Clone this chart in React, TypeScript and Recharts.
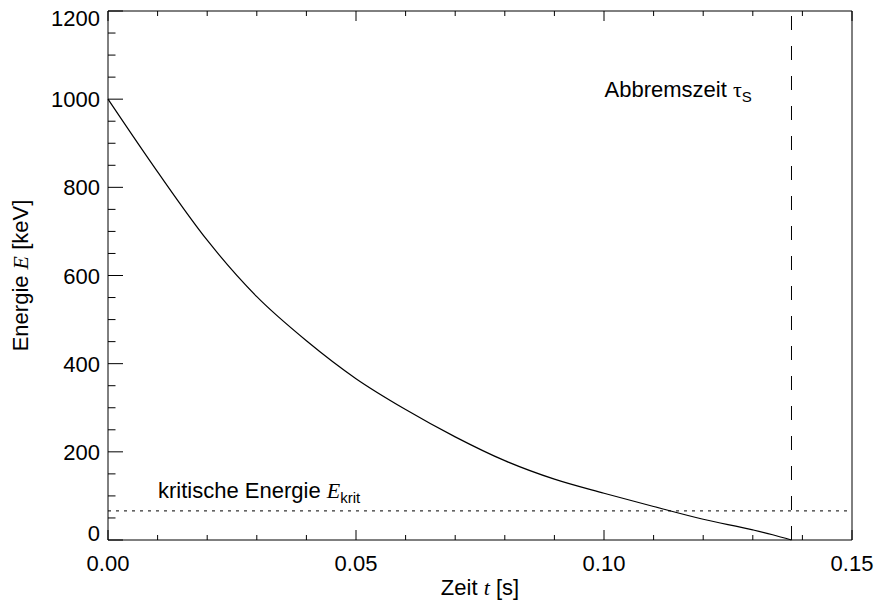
import React from "react";
import { Label, Line, LineChart, ReferenceLine, XAxis, YAxis } from "recharts";

// time in s, energy in keV
const timeS = [0, 0.01, 0.02, 0.03, 0.04, 0.05, 0.06, 0.07, 0.08, 0.09, 0.1, 0.11, 0.12, 0.13, 0.134, 0.1378];
const energyKeV = [1000, 835, 680, 552, 452, 366, 296, 234, 180, 138, 106, 76, 47, 23, 12, 0];

const stoppingTime = 0.1378;
const criticalEnergy = 66;

const xMajorTicks = [0, 0.05, 0.1, 0.15];
const xMinorTicks = [0.01, 0.02, 0.03, 0.04, 0.06, 0.07, 0.08, 0.09, 0.11, 0.12, 0.13, 0.14];
const xTickLabels = ["0.00", "0.05", "0.10", "0.15"];
const yMajorTicks = [0, 200, 400, 600, 800, 1000, 1200];
const yMinorTicks = [50, 100, 150, 250, 300, 350, 450, 500, 550, 650, 700, 750, 850, 900, 950, 1050, 1100, 1150];
const yTickLabels = ["0", "200", "400", "600", "800", "1000", "1200"];

const SANS = "'Liberation Sans', Arial, Helvetica, sans-serif";
const SERIF = "'Liberation Serif', 'Times New Roman', serif";
const FS = 22;

const data = timeS.map((t, i) => ({ t, E: energyKeV[i] }));

const majorIndex = (v: number, majors: number[]) =>
  majors.findIndex((m) => Math.abs(m - v) < 1e-9);

const BottomTick = (props: any) => {
  const { x, y, payload } = props;
  const idx = majorIndex(payload.value, xMajorTicks);
  const major = idx >= 0;
  return (
    <g>
      <line x1={x} x2={x} y1={y} y2={y - (major ? 10 : 5)} stroke="#000" strokeWidth={1} />
      {major && (
        <text x={x} y={y + 31} textAnchor="middle" fontFamily={SANS} fontSize={FS} fill="#000">
          {xTickLabels[idx]}
        </text>
      )}
    </g>
  );
};

const TopTick = (props: any) => {
  const { x, y, payload } = props;
  const major = majorIndex(payload.value, xMajorTicks) >= 0;
  return <line x1={x} x2={x} y1={y} y2={y + (major ? 10 : 5)} stroke="#000" strokeWidth={1} />;
};

const LeftTick = (props: any) => {
  const { x, y, payload } = props;
  const idx = majorIndex(payload.value, yMajorTicks);
  const major = idx >= 0;
  let shift = 0;
  if (idx === 0) shift = -7;
  if (idx === yMajorTicks.length - 1) shift = 7;
  return (
    <g>
      <line x1={x} x2={x + (major ? 15 : 7.5)} y1={y} y2={y} stroke="#000" strokeWidth={1} />
      {major && (
        <text x={x - 8} y={y + shift + 8} textAnchor="end" fontFamily={SANS} fontSize={FS} fill="#000">
          {yTickLabels[idx]}
        </text>
      )}
    </g>
  );
};

const RightTick = (props: any) => {
  const { x, y, payload } = props;
  const major = majorIndex(payload.value, yMajorTicks) >= 0;
  return <line x1={x} x2={x - (major ? 15 : 7.5)} y1={y} y2={y} stroke="#000" strokeWidth={1} />;
};

const YTitle = (props: any) => {
  const vb = props.viewBox || {};
  const cx = 28;
  const cy = (vb.y ?? 11) + (vb.height ?? 529) / 2;
  return (
    <text
      x={cx}
      y={cy}
      transform={`rotate(-90, ${cx}, ${cy})`}
      textAnchor="middle"
      fontFamily={SANS}
      fontSize={FS}
      fill="#000"
    >
      Energie <tspan fontFamily={SERIF} fontStyle="italic">E</tspan> [keV]
    </text>
  );
};

const XTitle = (props: any) => {
  const vb = props.viewBox || {};
  const cx = (vb.x ?? 108) + (vb.width ?? 744) / 2;
  return (
    <text x={cx} y={595} textAnchor="middle" fontFamily={SANS} fontSize={FS} fill="#000">
      Zeit <tspan fontFamily={SERIF} fontStyle="italic">t</tspan> [s]
    </text>
  );
};

const CriticalLabel = (props: any) => {
  const vb = props.viewBox || {};
  return (
    <text x={vb.x + 50} y={vb.y - 13} fontFamily={SANS} fontSize={FS} fill="#000">
      kritische Energie{" "}
      <tspan fontFamily={SERIF} fontStyle="italic">E</tspan>
      <tspan fontSize={15} dy={5}>krit</tspan>
    </text>
  );
};

const StoppingLabel = (props: any) => {
  const vb = props.viewBox || {};
  return (
    <text x={vb.x - 187} y={vb.y + 86} fontFamily={SANS} fontSize={FS} fill="#000">
      Abbremszeit <tspan fontFamily={SERIF}>τ</tspan>
      <tspan fontSize={15} dy={5}>S</tspan>
    </text>
  );
};

export default function App() {
  return (
    <div style={{ position: "absolute", left: 0, top: 0, width: 877, height: 605, background: "#fff" }}>
      <LineChart width={877} height={605} data={data} margin={{ top: 0, right: 0, bottom: 0, left: 0 }}>
        <XAxis
          xAxisId="b"
          dataKey="t"
          type="number"
          domain={[0, 0.15]}
          ticks={[...xMajorTicks, ...xMinorTicks]}
          interval={0}
          height={65}
          tickSize={0}
          tickMargin={0}
          tickLine={false}
          axisLine={{ stroke: "#000" }}
          tick={<BottomTick />}
        >
          <Label content={<XTitle />} />
        </XAxis>
        <XAxis
          xAxisId="top"
          orientation="top"
          dataKey="t"
          type="number"
          domain={[0, 0.15]}
          ticks={[...xMajorTicks, ...xMinorTicks]}
          interval={0}
          height={11}
          tickSize={0}
          tickMargin={0}
          tickLine={false}
          axisLine={{ stroke: "#000" }}
          tick={<TopTick />}
        />
        <YAxis
          yAxisId="l"
          type="number"
          domain={[0, 1200]}
          ticks={[...yMajorTicks, ...yMinorTicks]}
          interval={0}
          width={108}
          tickSize={0}
          tickMargin={0}
          tickLine={false}
          axisLine={{ stroke: "#000" }}
          tick={<LeftTick />}
        >
          <Label content={<YTitle />} />
        </YAxis>
        <YAxis
          yAxisId="r"
          orientation="right"
          type="number"
          domain={[0, 1200]}
          ticks={[...yMajorTicks, ...yMinorTicks]}
          interval={0}
          width={25}
          tickSize={0}
          tickMargin={0}
          tickLine={false}
          axisLine={{ stroke: "#000" }}
          tick={<RightTick />}
        />
        <ReferenceLine
          xAxisId="b"
          yAxisId="l"
          y={criticalEnergy}
          stroke="#000"
          strokeWidth={1}
          strokeDasharray="3 5"
          label={<CriticalLabel />}
        />
        <ReferenceLine
          xAxisId="b"
          yAxisId="l"
          x={stoppingTime}
          stroke="#000"
          strokeWidth={1}
          strokeDasharray="14 16"
          label={<StoppingLabel />}
        />
        <Line
          xAxisId="b"
          yAxisId="l"
          dataKey="E"
          type="monotone"
          stroke="#000"
          strokeWidth={1.2}
          dot={false}
          isAnimationActive={false}
        />
      </LineChart>
    </div>
  );
}
